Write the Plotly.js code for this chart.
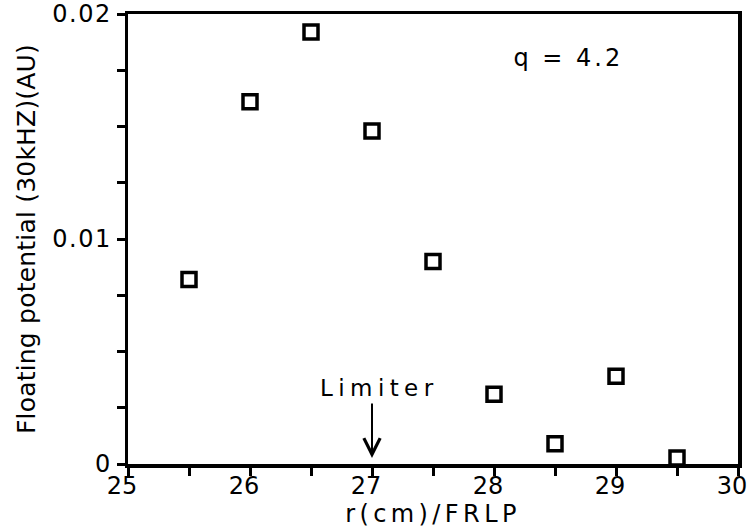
<!DOCTYPE html>
<html>
<head>
<meta charset="utf-8">
<script src="https://cdn.plot.ly/plotly-3.0.1.min.js"></script>
<style>
html, body { margin: 0; padding: 0; background: #fff; }
#chart { width: 749px; height: 531px; }
.ytick text { letter-spacing: 1.5px; }
.xtitle { letter-spacing: 4.4px; }
.ytitle { letter-spacing: 0.2px; }
.annotation[data-index="0"] .annotation-text { letter-spacing: 3px; }
.annotation[data-index="1"] .annotation-text { letter-spacing: 5.4px; }
</style>
</head>
<body>
<div id="chart"></div>
<script>
// Data
const radius = [25.5, 26.0, 26.5, 27.0, 27.5, 28.0, 28.5, 29.0, 29.5];
const floatingPotential = [0.0082, 0.0161, 0.0192, 0.0148, 0.0090, 0.0031, 0.0009, 0.0039, 0.00027];
const xTickValues = [25, 26, 27, 28, 29, 30];
const yTickValues = [0, 0.01, 0.02];
const qLabel = "q = 4.2";
const limiterLabel = "Limiter";
const limiterPosition = 27;

const FONT = "DejaVu Sans";

const trace = {
  x: radius,
  y: floatingPotential,
  type: "scatter",
  mode: "markers",
  cliponaxis: false,
  marker: {
    symbol: "square-open",
    size: 14,
    color: "#000",
    line: { width: 3.5, color: "#000" }
  },
  hoverinfo: "x+y"
};

const layout = {
  width: 749,
  height: 531,
  margin: { l: 128, r: 11, t: 14, b: 67, pad: 0 },
  paper_bgcolor: "#fff",
  plot_bgcolor: "#fff",
  showlegend: false,
  font: { family: FONT, size: 24, color: "#000" },
  xaxis: {
    range: [25, 30],
    tickvals: xTickValues,
    ticktext: xTickValues.map(String),
    ticks: "outside",
    ticklen: 8,
    tickwidth: 3,
    tickcolor: "#000",
    showline: true,
    linewidth: 3.5,
    linecolor: "#000",
    mirror: true,
    showgrid: false,
    zeroline: false,
    tickfont: { family: FONT, size: 24, color: "#000" },
    ticklabelstandoff: -10,
    ticklabelshift: -6,
    ticklabeloverflow: "allow",
    minor: { dtick: 0.5, tick0: 25, ticks: "outside", ticklen: 8, tickwidth: 3, tickcolor: "#000", showgrid: false },
    title: { text: "r(cm)/FRLP", font: { family: FONT, size: 24, color: "#000" }, standoff: 0 }
  },
  yaxis: {
    range: [0, 0.02],
    tickvals: yTickValues,
    ticktext: yTickValues.map(String),
    ticks: "outside",
    ticklen: 8,
    tickwidth: 3,
    tickcolor: "#000",
    showline: true,
    linewidth: 3.5,
    linecolor: "#000",
    mirror: true,
    showgrid: false,
    zeroline: false,
    tickfont: { family: FONT, size: 24, color: "#000" },
    ticklabelstandoff: 0,
    minor: { dtick: 0.0025, tick0: 0, ticks: "outside", ticklen: 8, tickwidth: 3, tickcolor: "#000", showgrid: false },
    title: { text: "Floating potential (30kHZ)(AU)", font: { family: FONT, size: 25, color: "#000" }, standoff: 10 }
  },
  annotations: [
    {
      x: 28.61, y: 0.01804, xref: "x", yref: "y",
      text: qLabel, showarrow: false,
      font: { family: FONT, size: 24, color: "#000" },
      xanchor: "center", yanchor: "middle"
    },
    {
      x: 27.06, y: 0.00338, xref: "x", yref: "y",
      text: limiterLabel, showarrow: false,
      font: { family: FONT, size: 23, color: "#000" },
      xanchor: "center", yanchor: "middle"
    },
    {
      x: limiterPosition, y: 0.00027, xref: "x", yref: "y",
      text: "", showarrow: true,
      ax: 0, ay: -56,
      arrowhead: 5, arrowsize: 1.6, arrowwidth: 2, arrowcolor: "#000",
      standoff: 0, startstandoff: 0
    }
  ]
};

Plotly.newPlot("chart", [trace], layout, { displayModeBar: false, staticPlot: true });
</script>
</body>
</html>
